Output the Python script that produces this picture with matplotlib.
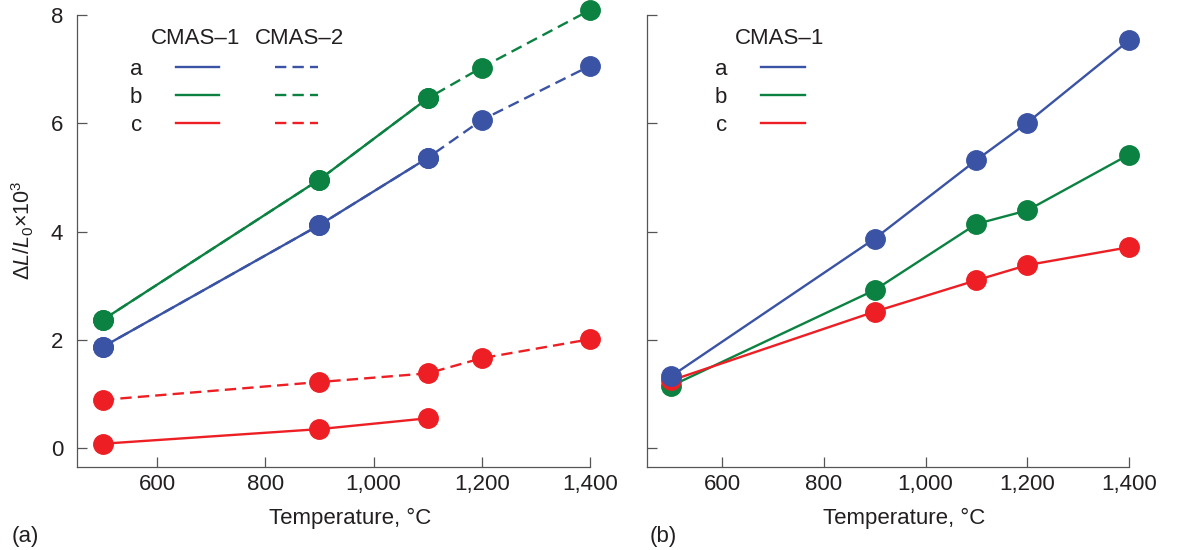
import matplotlib
matplotlib.use('Agg')
import matplotlib.pyplot as plt
from matplotlib.lines import Line2D

plt.rcParams['font.family'] = ['Liberation Sans', 'DejaVu Sans']
plt.rcParams['mathtext.fontset'] = 'custom'
plt.rcParams['mathtext.rm'] = 'Liberation Sans'
plt.rcParams['mathtext.it'] = 'Liberation Sans:italic'

# ---- data ----
temp_short = [500, 900, 1100]
temp_long = [500, 900, 1100, 1200, 1400]

# panel (a), CMAS-1 (solid)
a1_a = [1.87, 4.12, 5.36]
a1_b = [2.37, 4.96, 6.46]
a1_c = [0.08, 0.35, 0.55]
# panel (a), CMAS-2 (dashed)
a2_a = [1.87, 4.12, 5.36, 6.06, 7.06]
a2_b = [2.37, 4.96, 6.46, 7.03, 8.09]
a2_c = [0.89, 1.22, 1.38, 1.66, 2.01]

# panel (b), CMAS-1
b1_a = [1.33, 3.87, 5.32, 6.01, 7.53]
b1_b = [1.15, 2.92, 4.14, 4.39, 5.42]
b1_c = [1.25, 2.52, 3.10, 3.38, 3.71]

xticks = [600, 800, 1000, 1200, 1400]
xtick_labels = ['600', '800', '1,000', '1,200', '1,400']
yticks = [0, 2, 4, 6, 8]

BLUE = '#3a53a4'
GREEN = '#0b8241'
RED = '#ed1f24'
TXT = '#231f20'
AX = '#555555'
DASH = (4.8, 2.6)
FS = 16

fig = plt.figure(figsize=(11.95, 5.5), dpi=100)
ax1 = fig.add_axes([0.0644, 0.1509, 0.4293, 0.8218])
ax2 = fig.add_axes([0.5414, 0.1509, 0.4033, 0.8218])


def style(ax, ylabels=True):
    ax.set_xlim(452, 1400)
    ax.set_ylim(-0.35, 8.0)
    for s in ['top', 'right']:
        ax.spines[s].set_visible(False)
    for s in ['left', 'bottom']:
        ax.spines[s].set_color(AX)
        ax.spines[s].set_linewidth(0.9)
    ax.set_xticks(xticks)
    ax.set_xticklabels(xtick_labels)
    ax.set_yticks(yticks)
    if not ylabels:
        ax.set_yticklabels([])
    ax.tick_params(direction='in', length=7.5, width=0.9, color=AX,
                   labelsize=FS, labelcolor=TXT)
    ax.tick_params(axis='x', pad=5)
    ax.tick_params(axis='y', pad=10)
    ax.set_xlabel('Temperature, °C', fontsize=FS, color=TXT)
    ax.xaxis.set_label_coords(0.533, -0.09)


def draw(ax, x, y, color, dashed=False):
    kw = dict(color=color, lw=1.7, marker='o', ms=14, clip_on=False)
    if dashed:
        kw['dashes'] = DASH
    ax.plot(x, y, **kw)


# panel (a)
draw(ax1, temp_short, a1_c, RED)
draw(ax1, temp_long, a2_c, RED, True)
draw(ax1, temp_short, a1_a, BLUE)
draw(ax1, temp_long, a2_a, BLUE, True)
draw(ax1, temp_short, a1_b, GREEN)
draw(ax1, temp_long, a2_b, GREEN, True)
style(ax1)
ax1.set_ylabel(r'Δ$L$/$L_0$×10$^3$', fontsize=15.5, color=TXT)
ax1.yaxis.set_label_coords(-0.079, 0.524)

# panel (b)
draw(ax2, temp_long, b1_b, GREEN)
draw(ax2, temp_long, b1_c, RED)
draw(ax2, temp_long, b1_a, BLUE)
style(ax2, ylabels=False)

# legends
def keys(dashed=False):
    out = []
    for c in [BLUE, GREEN, RED]:
        ln = Line2D([], [], color=c, lw=1.7)
        if dashed:
            ln.set_dashes(DASH)
        out.append(ln)
    return out


leg_kw = dict(frameon=False, markerfirst=False, fontsize=FS, loc='upper left',
              handlelength=1.94, handletextpad=1.53, labelspacing=0.31,
              borderpad=0, borderaxespad=0, labelcolor=TXT)
ax1.legend(keys() + keys(True), ['a', 'b', 'c', '', '', ''], ncol=2,
           columnspacing=0.95, bbox_to_anchor=(0.103, 0.903), **leg_kw)
ax1.text(0.232, 0.948, 'CMAS–1', transform=ax1.transAxes, ha='center',
         va='center', fontsize=FS, color=TXT)
ax1.text(0.433, 0.948, 'CMAS–2', transform=ax1.transAxes, ha='center',
         va='center', fontsize=FS, color=TXT)

ax2.legend(keys(), ['a', 'b', 'c'], bbox_to_anchor=(0.141, 0.903), **leg_kw)
ax2.text(0.276, 0.948, 'CMAS–1', transform=ax2.transAxes, ha='center',
         va='center', fontsize=FS, color=TXT)

fig.text(0.010, 0.024, '(a)', fontsize=FS, color=TXT, ha='left', va='center')
fig.text(0.544, 0.024, '(b)', fontsize=FS, color=TXT, ha='left', va='center')

fig.savefig('out.png', dpi=100)
